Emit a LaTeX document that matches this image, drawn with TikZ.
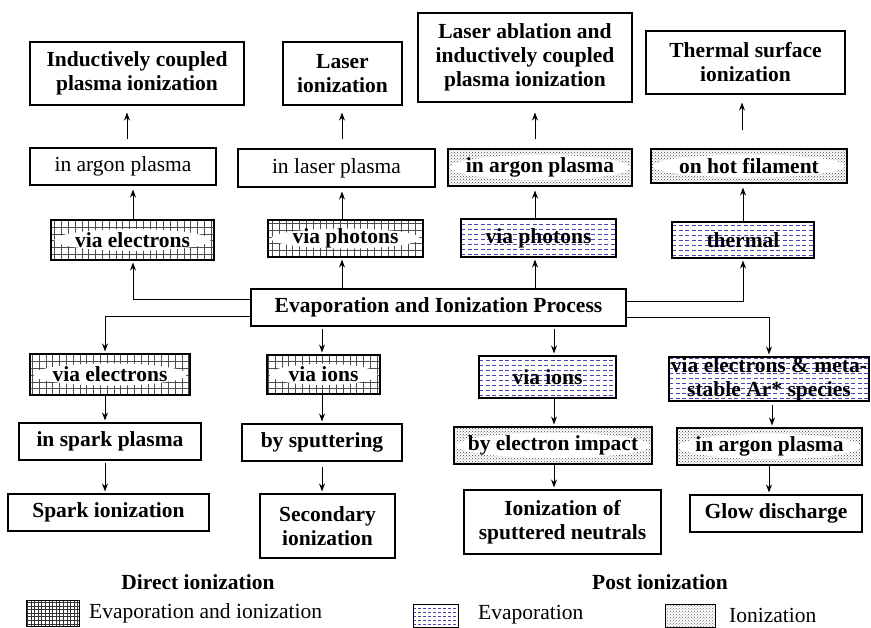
\documentclass[tikz,border=0pt]{standalone}
\usepackage{fontspec}
\setmainfont{Liberation Serif}
\usetikzlibrary{arrows.meta,patterns,calc}
\definecolor{dblue}{RGB}{70,70,180}
\begin{document}
\begin{tikzpicture}[x=1pt,y=-1pt,
  txt/.style={inner sep=0pt,font=\fontsize{21.5}{24}\selectfont},
  btxt/.style={inner sep=0pt,font=\fontsize{21.5}{24}\selectfont\bfseries},
  box/.style={draw, line width=1.1pt, inner sep=0pt, align=center, font=\fontsize{21.5}{24}\selectfont\bfseries},
  plainbox/.style={box, font=\fontsize{21.5}{24}\selectfont},
  gridbox/.style={box, path picture={
     \draw[black!70, line width=0.5pt, step=6.8pt] (path picture bounding box.south west) grid (path picture bounding box.north east);
     \path let \p1=($(path picture bounding box.north east)-(path picture bounding box.south west)$) in
       [fill=white] (path picture bounding box.center) ellipse [x radius=0.48*\x1, y radius=0.27*\y1];}},
  dashbox/.style={box, path picture={
     \foreach \k in {1,...,10}
       \draw[dblue, line width=0.6pt, dash pattern=on 4pt off 2.5pt]
         ([yshift=\k*5pt-2pt]path picture bounding box.south west) -- ([yshift=\k*5pt-2pt]path picture bounding box.south east);}},
  dotbox/.style={box, pattern=crosshatch dots, pattern color=black!75, path picture={
     \path let \p1=($(path picture bounding box.north east)-(path picture bounding box.south west)$) in
       [fill=white] (path picture bounding box.center) ellipse [x radius=0.49*\x1, y radius=0.34*\y1];}},
  arr/.style={-{Stealth[length=8pt,width=6pt]}, line width=0.9pt, shorten >=2pt},
]
\useasboundingbox (0,0) rectangle (871,628);

% top row
\node[box, minimum width=214pt, minimum height=63pt] (icp) at (137,73.5) {Inductively coupled\\plasma ionization};
\node[box, minimum width=119pt, minimum height=63pt] (li) at (342.5,73.5) {Laser\\ionization};
\node[box, minimum width=214pt, minimum height=89pt] (la) at (525,57.5) {Laser ablation and\\inductively coupled\\plasma ionization};
\node[box, minimum width=199pt, minimum height=63pt] (ts) at (745.5,62.5) {Thermal surface\\ionization};

% second row
\node[plainbox, minimum width=186pt, minimum height=37pt] (ap1) at (123,166.5) {in argon plasma};
\node[plainbox, minimum width=197pt, minimum height=38pt] (lp) at (336.5,168) {in laser plasma};
\node[dotbox, minimum width=184pt, minimum height=37pt] (ap2) at (540,167.5) {in argon plasma};
\node[dotbox, minimum width=196pt, minimum height=34pt] (ohf) at (749,166) {on hot filament};

% third row
\node[gridbox, minimum width=163pt, minimum height=40pt] (ve1) at (132.5,240) {via electrons};
\node[gridbox, minimum width=155pt, minimum height=37pt] (vp1) at (345.5,238.5) {via photons};
\node[dashbox, minimum width=155pt, minimum height=38pt] (vp2) at (538.5,238) {via photons};
\node[dashbox, minimum width=142pt, minimum height=36pt] (th) at (743,240) {thermal};

% main
\node[box, minimum width=375pt, minimum height=37pt] (main) at (438.5,307.5) {Evaporation and Ionization Process};

% fourth row
\node[gridbox, minimum width=160pt, minimum height=41pt] (ve2) at (110,374.5) {via electrons};
\node[gridbox, minimum width=113pt, minimum height=39pt] (vi1) at (323.5,374.5) {via ions};
\node[dashbox, minimum width=137pt, minimum height=42pt] (vi2) at (547.5,377) {via ions};
\node[dashbox, minimum width=200pt, minimum height=44pt] (vem) at (769,379) {via electrons \& meta-\\stable Ar* species};

% fifth row
\node[box, minimum width=182pt, minimum height=37pt] (sp) at (110,441.5) {in spark plasma};
\node[box, minimum width=160pt, minimum height=37pt] (bs) at (322,442.5) {by sputtering};
\node[dotbox, minimum width=198pt, minimum height=37pt] (bei) at (553,445.5) {by electron impact};
\node[dotbox, minimum width=185pt, minimum height=37pt] (ap3) at (769.5,446.5) {in argon plasma};

% sixth row
\node[box, minimum width=201pt, minimum height=37pt] (si) at (108.5,512.5) {Spark ionization};
\node[box, minimum width=135pt, minimum height=64pt] (sec) at (327.5,526) {Secondary\\ionization};
\node[box, minimum width=197pt, minimum height=64pt] (isn) at (562.5,522) {Ionization of\\sputtered neutrals};
\node[box, minimum width=172pt, minimum height=37pt] (gd) at (776,513.5) {Glow discharge};

% row 3 -> row 2
\draw[arr, shorten >=4pt] (ve1.north -| 133,0) -- (ap1.south -| 133,0);
\draw[arr, shorten >=4pt] (vp1.north -| 342,0) -- (lp.south -| 342,0);
\draw[arr, shorten >=4pt] (vp2.north -| 535,0) -- (ap2.south -| 535,0);
\draw[arr, shorten >=4pt] (th.north -| 743,0) -- (ohf.south -| 743,0);

% row 2 -> row 1
\draw[arr, shorten <=8pt, shorten >=7pt] (ap1.north -| 127,0) -- (icp.south -| 127,0);
\draw[arr, shorten <=9pt, shorten >=7pt] (lp.north -| 342,0) -- (li.south -| 342,0);
\draw[arr, shorten <=9pt, shorten >=10pt] (ap2.north -| 535,0) -- (la.south -| 535,0);
\draw[arr, shorten <=18pt, shorten >=8pt] (ohf.north -| 742,0) -- (ts.south -| 742,0);

% main connectors
\draw[arr] ([yshift=8.5pt]main.west) -| (ve1.south -| 133,0);
\draw[arr] ([yshift=-8.5pt]main.west) -| (ve2.north -| 105,0);
\draw[arr] (main.north -| 342,0) -- (vp1.south -| 342,0);
\draw[arr] (main.north -| 535,0) -- (vp2.south -| 535,0);
\draw[arr] ([yshift=6.5pt]main.east) -| (th.south -| 743,0);
\draw[arr] ([yshift=-9.5pt]main.east) -| (vem.north -| 769,0);
\draw[arr, shorten <=2pt] (main.south -| 322,0) -- (vi1.north -| 322,0);
\draw[arr, shorten <=2pt] (main.south -| 554,0) -- (vi2.north -| 554,0);

% rows 4 -> 5 -> 6
\draw[arr] (ve2.south -| 105,0) -- (sp.north -| 105,0);
\draw[arr] (vi1.south -| 322,0) -- (bs.north -| 322,0);
\draw[arr] (vi2.south -| 554,0) -- (bei.north -| 554,0);
\draw[arr, shorten <=3pt] (vem.south -| 772,0) -- (ap3.north -| 772,0);
\draw[arr, shorten <=2pt] (sp.south -| 105,0) -- (si.north -| 105,0);
\draw[arr, shorten <=5pt] (bs.south -| 322,0) -- (sec.north -| 322,0);
\draw[arr] (bei.south -| 554,0) -- (isn.north -| 554,0);
\draw[arr] (ap3.south -| 769,0) -- (gd.north -| 769,0);

% legend
\node[btxt] (ldir) at (198,582) {Direct ionization};
\node[btxt] (lpost) at (660,582) {Post ionization};
\node[draw, line width=1pt, minimum width=53pt, minimum height=26pt, inner sep=0pt,
      path picture={\draw[black!80, line width=0.5pt, step=3.6pt] (path picture bounding box.south west) grid (path picture bounding box.north east);}]
      (lg1) at (52.5,613) {};
\node[txt, anchor=west] (lt1) at (89,613) {Evaporation and ionization};
\node[draw, line width=0.8pt, minimum width=45pt, minimum height=23pt, inner sep=0pt,
      path picture={\foreach \k in {1,...,6}
       \draw[dblue, line width=0.6pt, dash pattern=on 3pt off 2pt]
         ([yshift=\k*4pt-1pt]path picture bounding box.south west) -- ([yshift=\k*4pt-1pt]path picture bounding box.south east);}]
      (lg2) at (435.5,616) {};
\node[txt, anchor=west] (lt2) at (478,615) {Evaporation};
\node[draw, line width=0.8pt, minimum width=50pt, minimum height=23pt, inner sep=0pt,
      pattern=crosshatch dots, pattern color=black!60] (lg3) at (690,616) {};
\node[txt, anchor=west] (lt3) at (729,615) {Ionization};
\end{tikzpicture}
\end{document}
